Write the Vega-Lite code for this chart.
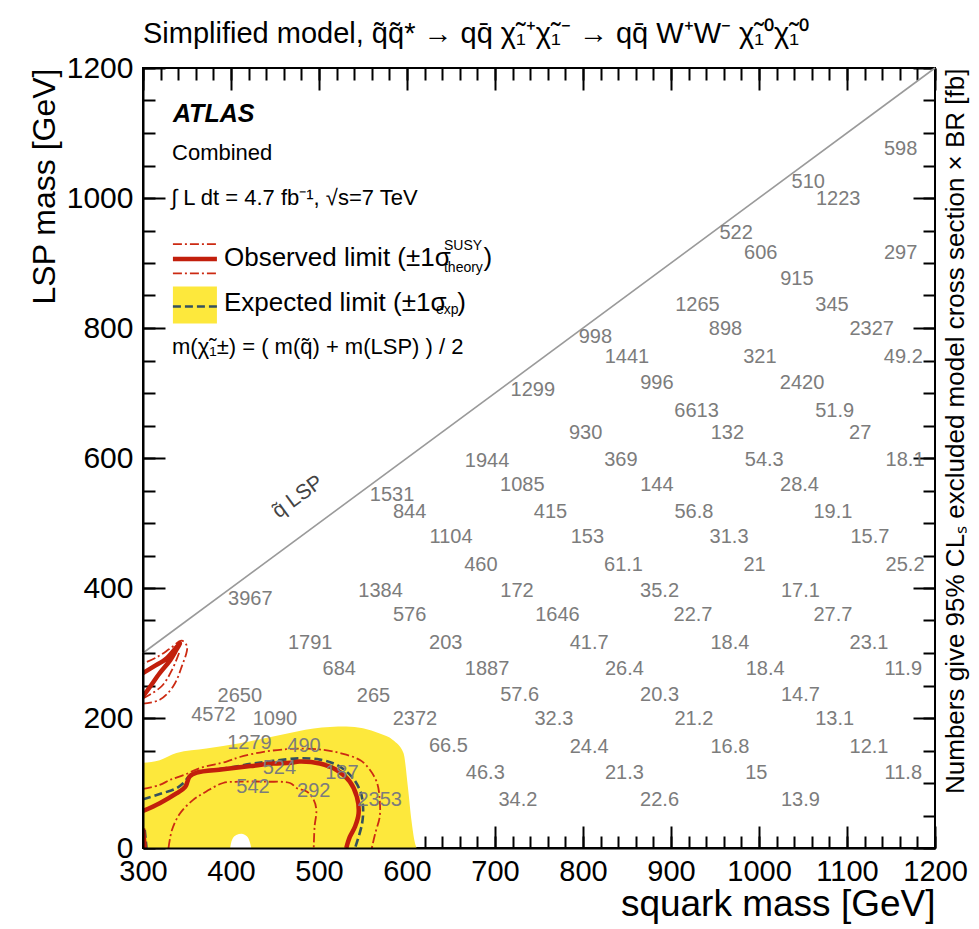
{
  "$schema": "https://vega.github.io/schema/vega-lite/v6.json",
  "width": 792,
  "height": 780,
  "autosize": "none",
  "padding": {"left": 143, "top": 68, "right": 44, "bottom": 81},
  "background": "white",
  "title": {
    "text": "Simplified model, q\u0303q\u0303* \u2192 qq\u0304 \u03c7\u0303\u2081\u207a\u03c7\u0303\u2081\u207b \u2192 qq\u0304 W\u207aW\u207b \u03c7\u0303\u2081\u2070\u03c7\u0303\u2081\u2070",
    "anchor": "start", "frame": "group", "offset": 4,
    "font": "Liberation Sans", "fontSize": 29, "fontWeight": "normal", "color": "black"
  },
  "config": {"view": {"stroke": "black", "strokeWidth": 2}, "font": "Liberation Sans"},
  "datasets": {
    "nums": [
      {"v": "598", "x": 1161, "y": 1076}, {"v": "510", "x": 1056, "y": 1024}, {"v": "1223", "x": 1090, "y": 998},
      {"v": "522", "x": 974, "y": 946}, {"v": "606", "x": 1002, "y": 916}, {"v": "297", "x": 1161, "y": 916},
      {"v": "915", "x": 1043, "y": 875}, {"v": "1265", "x": 930, "y": 835}, {"v": "345", "x": 1083, "y": 835},
      {"v": "898", "x": 962, "y": 798}, {"v": "2327", "x": 1128, "y": 798}, {"v": "998", "x": 814, "y": 786},
      {"v": "1441", "x": 850, "y": 756}, {"v": "321", "x": 1001, "y": 756}, {"v": "49.2", "x": 1164, "y": 756},
      {"v": "1299", "x": 743, "y": 705}, {"v": "996", "x": 884, "y": 715}, {"v": "2420", "x": 1049, "y": 715},
      {"v": "6613", "x": 929, "y": 673}, {"v": "51.9", "x": 1086, "y": 673}, {"v": "930", "x": 803, "y": 638},
      {"v": "132", "x": 964, "y": 638}, {"v": "27", "x": 1115, "y": 638}, {"v": "1944", "x": 691, "y": 596},
      {"v": "369", "x": 843, "y": 597}, {"v": "54.3", "x": 1006, "y": 597}, {"v": "18.1", "x": 1166, "y": 597},
      {"v": "1085", "x": 731, "y": 558}, {"v": "144", "x": 884, "y": 558}, {"v": "28.4", "x": 1046, "y": 558},
      {"v": "1531", "x": 583, "y": 543}, {"v": "844", "x": 603, "y": 517}, {"v": "415", "x": 763, "y": 517},
      {"v": "56.8", "x": 926, "y": 517}, {"v": "19.1", "x": 1084, "y": 517}, {"v": "1104", "x": 650, "y": 478},
      {"v": "153", "x": 805, "y": 478}, {"v": "31.3", "x": 966, "y": 478}, {"v": "15.7", "x": 1126, "y": 478},
      {"v": "460", "x": 684, "y": 436}, {"v": "61.1", "x": 846, "y": 436}, {"v": "21", "x": 995, "y": 436},
      {"v": "25.2", "x": 1166, "y": 436}, {"v": "3967", "x": 422, "y": 383}, {"v": "1384", "x": 570, "y": 396},
      {"v": "172", "x": 725, "y": 396}, {"v": "35.2", "x": 887, "y": 396}, {"v": "17.1", "x": 1047, "y": 396},
      {"v": "576", "x": 603, "y": 358}, {"v": "1646", "x": 771, "y": 358}, {"v": "22.7", "x": 925, "y": 358},
      {"v": "27.7", "x": 1084, "y": 358}, {"v": "1791", "x": 490, "y": 316}, {"v": "203", "x": 644, "y": 316},
      {"v": "41.7", "x": 807, "y": 316}, {"v": "18.4", "x": 967, "y": 316}, {"v": "23.1", "x": 1125, "y": 316},
      {"v": "684", "x": 523, "y": 275}, {"v": "1887", "x": 691, "y": 275}, {"v": "26.4", "x": 847, "y": 275},
      {"v": "18.4", "x": 1007, "y": 275}, {"v": "11.9", "x": 1164, "y": 275}, {"v": "2650", "x": 410, "y": 234},
      {"v": "265", "x": 562, "y": 234}, {"v": "57.6", "x": 728, "y": 235}, {"v": "20.3", "x": 887, "y": 235},
      {"v": "14.7", "x": 1047, "y": 235}, {"v": "4572", "x": 380, "y": 205}, {"v": "1090", "x": 450, "y": 198},
      {"v": "2372", "x": 609, "y": 198}, {"v": "32.3", "x": 767, "y": 198}, {"v": "21.2", "x": 926, "y": 198},
      {"v": "13.1", "x": 1086, "y": 198}, {"v": "1279", "x": 421, "y": 162}, {"v": "490", "x": 483, "y": 157},
      {"v": "66.5", "x": 647, "y": 157}, {"v": "24.4", "x": 807, "y": 156}, {"v": "16.8", "x": 967, "y": 156},
      {"v": "12.1", "x": 1125, "y": 156}, {"v": "524", "x": 455, "y": 123}, {"v": "187", "x": 526, "y": 116},
      {"v": "46.3", "x": 689, "y": 115}, {"v": "21.3", "x": 847, "y": 116}, {"v": "15", "x": 997, "y": 116},
      {"v": "11.8", "x": 1164, "y": 116}, {"v": "542", "x": 425, "y": 94}, {"v": "292", "x": 494, "y": 87},
      {"v": "2353", "x": 569, "y": 74}, {"v": "34.2", "x": 726, "y": 74}, {"v": "22.6", "x": 887, "y": 74},
      {"v": "13.9", "x": 1047, "y": 74}
    ],
    "band": [
      {"x": 300, "y": 131}, {"x": 319, "y": 135}, {"x": 338, "y": 146}, {"x": 372, "y": 153}, {"x": 410, "y": 161},
      {"x": 456, "y": 174}, {"x": 494, "y": 184}, {"x": 531, "y": 187}, {"x": 569, "y": 176}, {"x": 584, "y": 166},
      {"x": 596, "y": 146}, {"x": 601, "y": 94}, {"x": 605, "y": 43}, {"x": 609, "y": 8}, {"x": 611, "y": 0}
    ],
    "hole": [
      {"x": 399, "y": 0}, {"x": 401, "y": 12}, {"x": 406, "y": 20}, {"x": 412, "y": 22}, {"x": 418, "y": 18},
      {"x": 422, "y": 6}, {"x": 423, "y": 0}
    ],
    "box": [{"x": 334, "x2": 384, "y": 807, "y2": 864}],
    "diag": [{"x": 300, "y": 300, "x2": 1200, "y2": 1200}],
    "contours": [
      {"line": "exp1", "s": "exp", "o": 1, "x": 300, "y": 75}, {"line": "exp1", "s": "exp", "o": 2, "x": 319, "y": 83},
      {"line": "exp1", "s": "exp", "o": 3, "x": 338, "y": 92}, {"line": "exp1", "s": "exp", "o": 4, "x": 346, "y": 100},
      {"line": "exp1", "s": "exp", "o": 5, "x": 353, "y": 111}, {"line": "exp1", "s": "exp", "o": 6, "x": 363, "y": 117},
      {"line": "exp1", "s": "exp", "o": 7, "x": 395, "y": 123}, {"line": "exp1", "s": "exp", "o": 8, "x": 425, "y": 130},
      {"line": "exp1", "s": "exp", "o": 9, "x": 448, "y": 134}, {"line": "exp1", "s": "exp", "o": 10, "x": 478, "y": 138},
      {"line": "exp1", "s": "exp", "o": 11, "x": 501, "y": 136}, {"line": "exp1", "s": "exp", "o": 12, "x": 520, "y": 128},
      {"line": "exp1", "s": "exp", "o": 13, "x": 537, "y": 110}, {"line": "exp1", "s": "exp", "o": 14, "x": 547, "y": 87},
      {"line": "exp1", "s": "exp", "o": 15, "x": 550, "y": 64}, {"line": "exp1", "s": "exp", "o": 16, "x": 549, "y": 38},
      {"line": "exp1", "s": "exp", "o": 17, "x": 541, "y": 0},
      {"line": "exp2", "s": "exp", "o": 1, "x": 302, "y": 28}, {"line": "exp2", "s": "exp", "o": 2, "x": 304, "y": 0},
      {"line": "legexp", "s": "exp", "o": 1, "x": 334, "y": 833}, {"line": "legexp", "s": "exp", "o": 2, "x": 384, "y": 833},
      {"line": "up", "s": "theo", "o": 1, "x": 300, "y": 91}, {"line": "up", "s": "theo", "o": 2, "x": 319, "y": 97},
      {"line": "up", "s": "theo", "o": 3, "x": 331, "y": 105}, {"line": "up", "s": "theo", "o": 4, "x": 346, "y": 112},
      {"line": "up", "s": "theo", "o": 5, "x": 365, "y": 123}, {"line": "up", "s": "theo", "o": 6, "x": 395, "y": 133},
      {"line": "up", "s": "theo", "o": 7, "x": 410, "y": 140}, {"line": "up", "s": "theo", "o": 8, "x": 437, "y": 148},
      {"line": "up", "s": "theo", "o": 9, "x": 463, "y": 152}, {"line": "up", "s": "theo", "o": 10, "x": 478, "y": 153},
      {"line": "up", "s": "theo", "o": 11, "x": 505, "y": 151}, {"line": "up", "s": "theo", "o": 12, "x": 524, "y": 146},
      {"line": "up", "s": "theo", "o": 13, "x": 547, "y": 135}, {"line": "up", "s": "theo", "o": 14, "x": 558, "y": 120},
      {"line": "up", "s": "theo", "o": 15, "x": 566, "y": 100}, {"line": "up", "s": "theo", "o": 16, "x": 569, "y": 74},
      {"line": "up", "s": "theo", "o": 17, "x": 569, "y": 48}, {"line": "up", "s": "theo", "o": 18, "x": 564, "y": 23},
      {"line": "up", "s": "theo", "o": 19, "x": 560, "y": 0},
      {"line": "dn", "s": "theo", "o": 1, "x": 329, "y": 0}, {"line": "dn", "s": "theo", "o": 2, "x": 333, "y": 28},
      {"line": "dn", "s": "theo", "o": 3, "x": 342, "y": 53}, {"line": "dn", "s": "theo", "o": 4, "x": 357, "y": 74},
      {"line": "dn", "s": "theo", "o": 5, "x": 372, "y": 87}, {"line": "dn", "s": "theo", "o": 6, "x": 391, "y": 100},
      {"line": "dn", "s": "theo", "o": 7, "x": 410, "y": 102}, {"line": "dn", "s": "theo", "o": 8, "x": 441, "y": 102},
      {"line": "dn", "s": "theo", "o": 9, "x": 467, "y": 100}, {"line": "dn", "s": "theo", "o": 10, "x": 475, "y": 92},
      {"line": "dn", "s": "theo", "o": 11, "x": 486, "y": 87}, {"line": "dn", "s": "theo", "o": 12, "x": 494, "y": 74},
      {"line": "dn", "s": "theo", "o": 13, "x": 497, "y": 58}, {"line": "dn", "s": "theo", "o": 14, "x": 495, "y": 33},
      {"line": "dn", "s": "theo", "o": 15, "x": 494, "y": 0},
      {"line": "isl_t1", "s": "theo", "o": 1, "x": 300, "y": 222}, {"line": "isl_t1", "s": "theo", "o": 2, "x": 319, "y": 228},
      {"line": "isl_t1", "s": "theo", "o": 3, "x": 334, "y": 248}, {"line": "isl_t1", "s": "theo", "o": 4, "x": 344, "y": 279},
      {"line": "isl_t1", "s": "theo", "o": 5, "x": 350, "y": 310}, {"line": "isl_t1", "s": "theo", "o": 6, "x": 344, "y": 319},
      {"line": "isl_t1", "s": "theo", "o": 7, "x": 330, "y": 306}, {"line": "isl_t1", "s": "theo", "o": 8, "x": 315, "y": 293},
      {"line": "isl_t1", "s": "theo", "o": 9, "x": 300, "y": 284},
      {"line": "isl_t2", "s": "theo", "o": 1, "x": 341, "y": 300}, {"line": "isl_t2", "s": "theo", "o": 2, "x": 333, "y": 274},
      {"line": "isl_t2", "s": "theo", "o": 3, "x": 322, "y": 250}, {"line": "isl_t2", "s": "theo", "o": 4, "x": 308, "y": 236},
      {"line": "isl_t2", "s": "theo", "o": 5, "x": 300, "y": 230},
      {"line": "legt1", "s": "theo", "o": 1, "x": 334, "y": 929}, {"line": "legt1", "s": "theo", "o": 2, "x": 384, "y": 929},
      {"line": "legt2", "s": "theo", "o": 1, "x": 334, "y": 884}, {"line": "legt2", "s": "theo", "o": 2, "x": 384, "y": 884},
      {"line": "obs1", "s": "obs", "o": 1, "x": 300, "y": 57}, {"line": "obs1", "s": "obs", "o": 2, "x": 319, "y": 69},
      {"line": "obs1", "s": "obs", "o": 3, "x": 338, "y": 84}, {"line": "obs1", "s": "obs", "o": 4, "x": 348, "y": 94},
      {"line": "obs1", "s": "obs", "o": 5, "x": 353, "y": 110}, {"line": "obs1", "s": "obs", "o": 6, "x": 361, "y": 116},
      {"line": "obs1", "s": "obs", "o": 7, "x": 391, "y": 121}, {"line": "obs1", "s": "obs", "o": 8, "x": 422, "y": 126},
      {"line": "obs1", "s": "obs", "o": 9, "x": 448, "y": 130}, {"line": "obs1", "s": "obs", "o": 10, "x": 467, "y": 131},
      {"line": "obs1", "s": "obs", "o": 11, "x": 478, "y": 133}, {"line": "obs1", "s": "obs", "o": 12, "x": 501, "y": 130},
      {"line": "obs1", "s": "obs", "o": 13, "x": 520, "y": 120}, {"line": "obs1", "s": "obs", "o": 14, "x": 535, "y": 102},
      {"line": "obs1", "s": "obs", "o": 15, "x": 543, "y": 79}, {"line": "obs1", "s": "obs", "o": 16, "x": 545, "y": 53},
      {"line": "obs1", "s": "obs", "o": 17, "x": 541, "y": 33}, {"line": "obs1", "s": "obs", "o": 18, "x": 535, "y": 17},
      {"line": "obs1", "s": "obs", "o": 19, "x": 531, "y": 0},
      {"line": "obs2", "s": "obs", "o": 1, "x": 300, "y": 30}, {"line": "obs2", "s": "obs", "o": 2, "x": 302, "y": 0},
      {"line": "isl_o", "s": "obs", "o": 1, "x": 300, "y": 269}, {"line": "isl_o", "s": "obs", "o": 2, "x": 312, "y": 279},
      {"line": "isl_o", "s": "obs", "o": 3, "x": 327, "y": 292}, {"line": "isl_o", "s": "obs", "o": 4, "x": 342, "y": 315},
      {"line": "isl_o", "s": "obs", "o": 5, "x": 338, "y": 305}, {"line": "isl_o", "s": "obs", "o": 6, "x": 331, "y": 289},
      {"line": "isl_o", "s": "obs", "o": 7, "x": 319, "y": 269}, {"line": "isl_o", "s": "obs", "o": 8, "x": 308, "y": 248},
      {"line": "isl_o", "s": "obs", "o": 9, "x": 300, "y": 233},
      {"line": "legobs", "s": "obs", "o": 1, "x": 334, "y": 906}, {"line": "legobs", "s": "obs", "o": 2, "x": 384, "y": 906}
    ],
    "notes": [
      {"t": "Combined", "x": 333, "y": 1070, "size": "m"},
      {"t": "\u222b L dt = 4.7 fb\u207b\u00b9, \u221as=7 TeV", "x": 332, "y": 1000, "size": "m"},
      {"t": "Observed limit (\u00b11\u03c3", "x": 392, "y": 907, "size": "l"},
      {"t": ")", "x": 687, "y": 907, "size": "l"},
      {"t": "Expected limit (\u00b11\u03c3", "x": 392, "y": 839, "size": "l"},
      {"t": ")", "x": 657, "y": 839, "size": "l"},
      {"t": "m(\u03c7\u0303\u2081\u00b1) = ( m(q\u0303) + m(LSP) ) / 2", "x": 333, "y": 771, "size": "m"},
      {"t": "SUSY", "x": 642, "y": 926, "size": "s"},
      {"t": "theory", "x": 642, "y": 893, "size": "s"},
      {"t": "exp", "x": 633, "y": 828, "size": "s"}
    ],
    "atlas": [{"t": "ATLAS", "x": 334, "y": 1130}],
    "diaglabel": [{"t": "q\u0303 LSP", "x": 476, "y": 540}]
  },
  "resolve": {"axis": {"x": "independent", "y": "independent"}},
  "layer": [
    {
      "data": {"name": "band"},
      "mark": {"type": "area", "color": "#fde83c", "clip": true, "interpolate": "monotone"},
      "encoding": {
        "x": {"field": "x", "type": "quantitative", "scale": {"domain": [300, 1200], "nice": false, "zero": false},
          "axis": {"orient": "top", "values": [300, 400, 500, 600, 700, 800, 900, 1000, 1100, 1200], "gridOpacity": 0, "tickSize": -22, "tickWidth": 2, "tickColor": "black", "labels": false, "domain": false, "title": null}},
        "y": {"field": "y", "type": "quantitative", "scale": {"domain": [0, 1200], "nice": false, "zero": false},
          "axis": {"orient": "right", "values": [0, 200, 400, 600, 800, 1000, 1200], "gridOpacity": 0, "tickSize": -22, "tickWidth": 2, "tickColor": "black", "labels": false, "domain": false,
            "title": "Numbers give 95% CL\u209b excluded model cross section \u00d7 BR [fb]", "titleAngle": 270, "titleAnchor": "end", "titleBaseline": "top", "titleFont": "Liberation Sans", "titleFontSize": 26, "titleFontWeight": "normal", "titleColor": "black", "titlePadding": 6}},
        "y2": {"datum": 0}
      }
    },
    {
      "data": {"name": "hole"},
      "mark": {"type": "area", "color": "white", "clip": true, "interpolate": "monotone"},
      "encoding": {
        "x": {"field": "x", "type": "quantitative",
          "axis": {"orient": "top", "values": [300, 320, 340, 360, 380, 400, 420, 440, 460, 480, 500, 520, 540, 560, 580, 600, 620, 640, 660, 680, 700, 720, 740, 760, 780, 800, 820, 840, 860, 880, 900, 920, 940, 960, 980, 1000, 1020, 1040, 1060, 1080, 1100, 1120, 1140, 1160, 1180, 1200], "gridOpacity": 0, "tickSize": -12, "tickWidth": 2, "tickColor": "black", "labels": false, "domain": false, "title": null}},
        "y": {"field": "y", "type": "quantitative",
          "axis": {"orient": "right", "values": [0, 50, 100, 150, 200, 250, 300, 350, 400, 450, 500, 550, 600, 650, 700, 750, 800, 850, 900, 950, 1000, 1050, 1100, 1150, 1200], "gridOpacity": 0, "tickSize": -12, "tickWidth": 2, "tickColor": "black", "labels": false, "domain": false, "title": null}},
        "y2": {"datum": 0}
      }
    },
    {
      "data": {"name": "box"},
      "mark": {"type": "rect", "color": "#fde83c"},
      "encoding": {
        "x": {"field": "x", "type": "quantitative", "axis": null},
        "x2": {"field": "x2"},
        "y": {"field": "y", "type": "quantitative", "axis": null},
        "y2": {"field": "y2"}
      }
    },
    {
      "data": {"name": "diag"},
      "mark": {"type": "rule", "color": "#9a9a9a", "strokeWidth": 1.6},
      "encoding": {
        "x": {"field": "x", "type": "quantitative",
          "axis": {"orient": "bottom", "values": [300, 400, 500, 600, 700, 800, 900, 1000, 1100, 1200], "gridOpacity": 0, "tickSize": -22, "tickWidth": 2, "tickColor": "black", "labels": false, "domain": false, "title": null}},
        "y": {"field": "y", "type": "quantitative",
          "axis": {"orient": "left", "values": [0, 200, 400, 600, 800, 1000, 1200], "gridOpacity": 0, "tickSize": -22, "tickWidth": 2, "tickColor": "black", "labels": false, "domain": false, "title": null}},
        "x2": {"field": "x2"},
        "y2": {"field": "y2"}
      }
    },
    {
      "data": {"name": "contours"},
      "transform": [{"filter": "datum.s === 'exp'"}],
      "mark": {"type": "line", "clip": true, "interpolate": "catmull-rom", "color": "#34505e", "strokeWidth": 2.6, "strokeDash": [8, 4]},
      "encoding": {
        "x": {"field": "x", "type": "quantitative",
          "axis": {"orient": "bottom", "values": [300, 320, 340, 360, 380, 400, 420, 440, 460, 480, 500, 520, 540, 560, 580, 600, 620, 640, 660, 680, 700, 720, 740, 760, 780, 800, 820, 840, 860, 880, 900, 920, 940, 960, 980, 1000, 1020, 1040, 1060, 1080, 1100, 1120, 1140, 1160, 1180, 1200], "gridOpacity": 0, "tickSize": -12, "tickWidth": 2, "tickColor": "black", "labels": false, "domain": false, "title": null}},
        "y": {"field": "y", "type": "quantitative",
          "axis": {"orient": "left", "values": [0, 50, 100, 150, 200, 250, 300, 350, 400, 450, 500, 550, 600, 650, 700, 750, 800, 850, 900, 950, 1000, 1050, 1100, 1150, 1200], "gridOpacity": 0, "tickSize": -12, "tickWidth": 2, "tickColor": "black", "labels": false, "domain": false, "title": null}},
        "detail": {"field": "line", "type": "nominal"},
        "order": {"field": "o", "type": "quantitative"}
      }
    },
    {
      "data": {"name": "contours"},
      "transform": [{"filter": "datum.s === 'theo'"}],
      "mark": {"type": "line", "clip": true, "interpolate": "catmull-rom", "color": "#cc2a12", "strokeWidth": 1.8, "strokeDash": [9, 3, 2, 3]},
      "encoding": {
        "x": {"field": "x", "type": "quantitative", "axis": null},
        "y": {"field": "y", "type": "quantitative", "axis": null},
        "detail": {"field": "line", "type": "nominal"},
        "order": {"field": "o", "type": "quantitative"}
      }
    },
    {
      "data": {"name": "contours"},
      "transform": [{"filter": "datum.s === 'obs'"}],
      "mark": {"type": "line", "clip": true, "interpolate": "catmull-rom", "color": "#c21f0c", "strokeWidth": 4.5},
      "encoding": {
        "x": {"field": "x", "type": "quantitative", "axis": null},
        "y": {"field": "y", "type": "quantitative", "axis": null},
        "detail": {"field": "line", "type": "nominal"},
        "order": {"field": "o", "type": "quantitative"}
      }
    },
    {
      "data": {"name": "nums"},
      "mark": {"type": "text", "font": "Liberation Sans", "fontSize": 20, "color": "#7c7c7c", "align": "center", "baseline": "middle"},
      "encoding": {
        "x": {"field": "x", "type": "quantitative",
          "axis": {"orient": "bottom", "values": [300, 400, 500, 600, 700, 800, 900, 1000, 1100, 1200], "format": "d", "gridOpacity": 0, "ticks": false, "domain": true, "domainColor": "black", "domainWidth": 2, "labelFont": "Liberation Sans", "labelFontSize": 29, "labelColor": "black", "labelPadding": 9, "labelFlush": false, "labelOverlap": false, "zindex": 1,
            "title": "squark mass [GeV]", "titleFont": "Liberation Sans", "titleFontSize": 37, "titleFontWeight": "normal", "titleColor": "black", "titleAnchor": "end", "titlePadding": 0}},
        "y": {"field": "y", "type": "quantitative",
          "axis": {"orient": "left", "values": [0, 200, 400, 600, 800, 1000, 1200], "format": "d", "gridOpacity": 0, "ticks": false, "domain": true, "domainColor": "black", "domainWidth": 2, "labelFont": "Liberation Sans", "labelFontSize": 30, "labelColor": "black", "labelPadding": 10, "labelFlush": false, "labelOverlap": false, "zindex": 1,
            "title": "LSP mass [GeV]", "titleFont": "Liberation Sans", "titleFontSize": 32, "titleFontWeight": "normal", "titleColor": "black", "titleAnchor": "end", "titlePadding": 5}},
        "text": {"field": "v"}
      }
    },
    {
      "data": {"name": "notes"},
      "transform": [{"filter": "datum.size === 'm'"}],
      "mark": {"type": "text", "font": "Liberation Sans", "fontSize": 22, "color": "black", "align": "left", "baseline": "middle"},
      "encoding": {
        "x": {"field": "x", "type": "quantitative", "axis": null},
        "y": {"field": "y", "type": "quantitative", "axis": null},
        "text": {"field": "t"}
      }
    },
    {
      "data": {"name": "notes"},
      "transform": [{"filter": "datum.size === 'l'"}],
      "mark": {"type": "text", "font": "Liberation Sans", "fontSize": 26, "color": "black", "align": "left", "baseline": "middle"},
      "encoding": {
        "x": {"field": "x", "type": "quantitative", "axis": null},
        "y": {"field": "y", "type": "quantitative", "axis": null},
        "text": {"field": "t"}
      }
    },
    {
      "data": {"name": "notes"},
      "transform": [{"filter": "datum.size === 's'"}],
      "mark": {"type": "text", "font": "Liberation Sans", "fontSize": 14, "color": "black", "align": "left", "baseline": "middle"},
      "encoding": {
        "x": {"field": "x", "type": "quantitative", "axis": null},
        "y": {"field": "y", "type": "quantitative", "axis": null},
        "text": {"field": "t"}
      }
    },
    {
      "data": {"name": "atlas"},
      "mark": {"type": "text", "font": "Liberation Sans", "fontSize": 25, "fontWeight": "bold", "fontStyle": "italic", "color": "black", "align": "left", "baseline": "middle"},
      "encoding": {
        "x": {"field": "x", "type": "quantitative", "axis": null},
        "y": {"field": "y", "type": "quantitative", "axis": null},
        "text": {"field": "t"}
      }
    },
    {
      "data": {"name": "diaglabel"},
      "mark": {"type": "text", "font": "Liberation Sans", "fontSize": 21, "color": "#444444", "align": "center", "baseline": "middle", "angle": 323.6},
      "encoding": {
        "x": {"field": "x", "type": "quantitative", "axis": null},
        "y": {"field": "y", "type": "quantitative", "axis": null},
        "text": {"field": "t"}
      }
    }
  ]
}
